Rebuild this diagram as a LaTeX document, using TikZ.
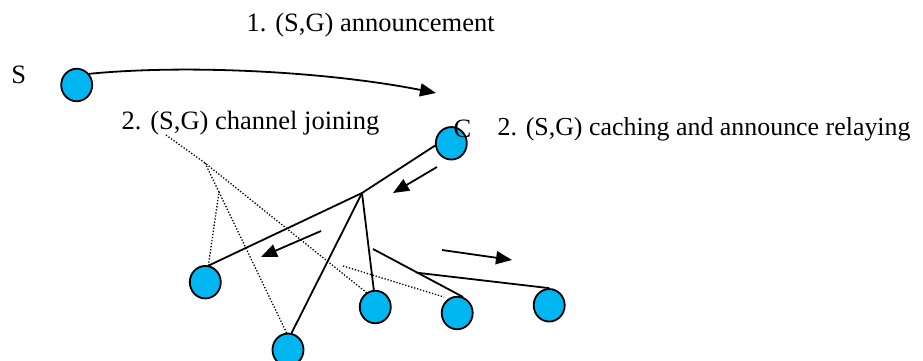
\documentclass[tikz,border=0pt]{standalone}
\usepackage{fontspec}
\setmainfont{Liberation Serif}
\usetikzlibrary{arrows.meta,shapes.geometric}
\definecolor{nodeblue}{RGB}{0,182,240}
\tikzset{
  peer/.style={ellipse,draw=black,line width=1.8pt,fill=nodeblue,minimum width=31pt,minimum height=32.5pt,inner sep=0pt},
  lbl/.style={anchor=base west,inner sep=0pt,font=\fontsize{26.5}{30}\selectfont},
  link/.style={line width=1.8pt},
  dots/.style={line width=1.3pt,dash pattern=on 1.3pt off 1.8pt},
  flow/.style={line width=1.8pt,-{Triangle[length=16pt,width=13pt]}}
}
\begin{document}
\begin{tikzpicture}[x=1pt,y=-1pt]
\useasboundingbox (0,0) rectangle (923,361);
% texts
\node[lbl] (t1) at (246.5,32) {1. (S,G) announcement};
\node[lbl] (tS) at (11.2,83) {S};
\node[lbl] (t2) at (121.5,129) {2. (S,G) channel joining};
\node[lbl,font=\fontsize{25.9}{30}\selectfont] (t3) at (497.5,135) {2. (S,G) caching and announce relaying};
% junctions
\coordinate (J) at (362,193);
\coordinate (D0) at (166,135);
\coordinate (D1) at (205,163);
\coordinate (D2) at (219,192);
\coordinate (D3) at (343,266);
\coordinate (E1) at (373,249);
\coordinate (E2) at (416.7,272.7);
% dotted lines (under the nodes)
\draw[dots] (D0) -- (D1) -- (372,297);
\draw[dots] (D1) -- (D2) -- (208,268);
\draw[dots] (D2) -- (290,340);
\draw[dots] (D3) -- (444,297);
% nodes
\node[peer] (S) at (76.7,85) {};
\node[peer] (C) at (451.3,143.3) {};
\node[peer] (L) at (205.3,282.2) {};
\node[peer] (B) at (288,349.8) {};
\node[peer] (M) at (375.3,307) {};
\node[peer] (F) at (457.2,313) {};
\node[peer] (R) at (549.2,305.3) {};
\node[lbl] (tC) at (453.5,137) {C};
% solid tree links
\draw[link] (C.188) -- (J);
\draw[link] (J) -- (L.78);
\draw[link] (J) -- (B.78);
\draw[link] (J) -- (M.95);
\draw[link] (E1) -- (F.70);
\draw[link] (E2) -- (R.north);
% arrows
\coordinate (A1s) at (437,167);
\coordinate (A1e) at (393,193);
\coordinate (A2s) at (321,231);
\coordinate (A2e) at (261,257);
\coordinate (A3s) at (442,250);
\coordinate (A3e) at (512,260);
\coordinate (A0e) at (436,93);
\draw[flow] (A1s) -- (A1e);
\draw[flow] (A2s) -- (A2e);
\draw[flow] (A3s) -- (A3e);
\draw[flow] (S.42) .. controls (190,64) and (330,72) .. (A0e);
\end{tikzpicture}
\end{document}
